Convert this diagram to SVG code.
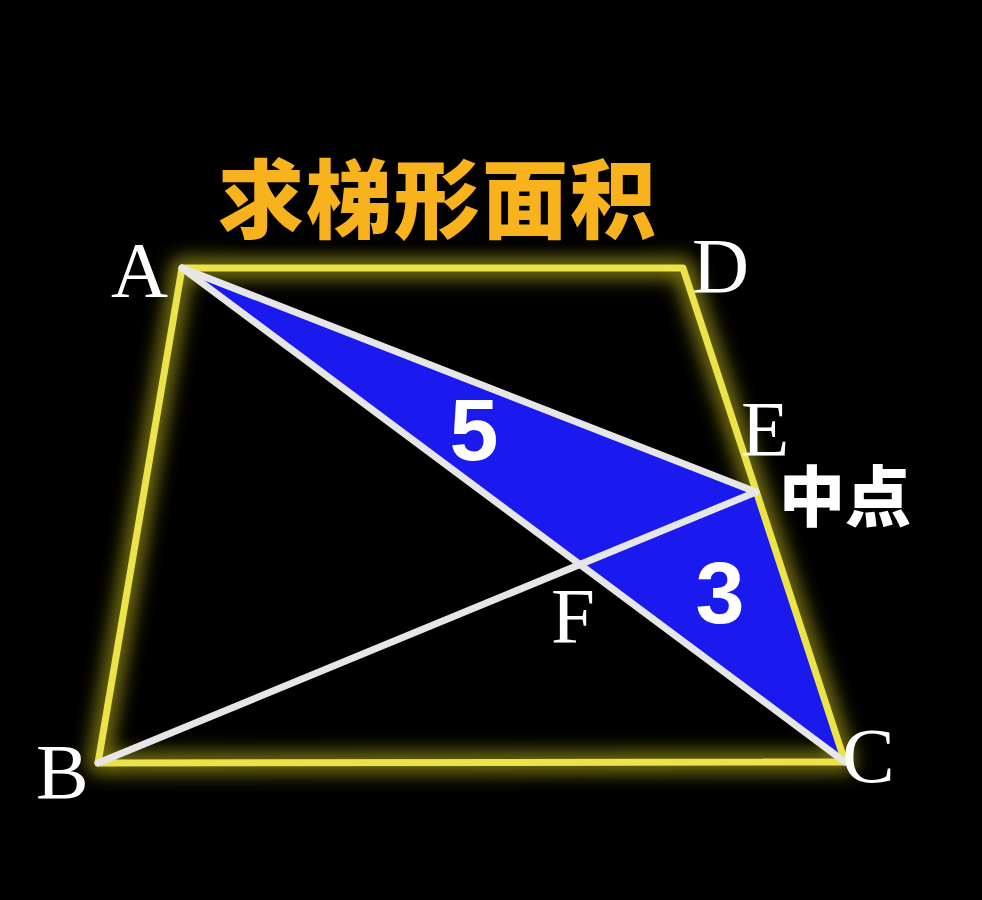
<svg xmlns="http://www.w3.org/2000/svg" width="982" height="900" viewBox="0 0 982 900">
  <defs>
    <filter id="glow" x="-20%" y="-20%" width="140%" height="140%">
      <feGaussianBlur stdDeviation="9"/>
    </filter>
    <filter id="soft" x="-20%" y="-20%" width="140%" height="140%">
      <feGaussianBlur stdDeviation="6"/>
    </filter>
    <style>
      .edge { fill: none; stroke: #ece24a; stroke-width: 7; stroke-linejoin: round; stroke-linecap: round; }
      .halo { fill: none; stroke: #d8d020; stroke-width: 22; stroke-opacity: 0.55; stroke-linejoin: round; }
      .seg { stroke: #e6e6e6; stroke-width: 7; stroke-linecap: round; }
      .pt { font-family: "Liberation Serif", "Times New Roman", serif; font-size: 79px; fill: #ffffff; }
      .num { font-family: "Liberation Sans", Arial, sans-serif; font-weight: bold; font-size: 88px; fill: #ffffff; text-anchor: middle; }
      .cjk { font-family: "Noto Sans CJK SC", "Noto Sans", sans-serif; font-weight: 900; }
    </style>
  </defs>
  <rect width="982" height="900" fill="#000000"/>

  <g id="glow-layer">
    <path class="halo" d="M182,268 L683,268 L845,762 L98,763 Z" filter="url(#glow)"/>
    <rect x="215" y="160" width="450" height="85" rx="30" fill="#000000" filter="url(#soft)"/>
  </g>

  <g id="shaded">
    <polygon points="182,268 756,492 845,762" fill="#1a1aee"/>
  </g>

  <g id="trapezoid">
    <path class="edge" d="M182,268 L683,268 L845,762 L98,763 Z"/>
  </g>

  <g id="connectors">
    <line class="seg" x1="182" y1="268" x2="845" y2="762"/>
    <line class="seg" x1="182" y1="268" x2="756" y2="492"/>
    <line class="seg" x1="98" y1="763" x2="756" y2="492"/>
  </g>

  <g id="title">
    <text class="cjk" x="438" y="232" font-size="86" fill="#f8b21e" text-anchor="middle" letter-spacing="2">求梯形面积</text>
  </g>

  <g id="labels">
    <text class="pt" x="111" y="296">A</text>
    <text class="pt" x="692" y="292">D</text>
    <text class="pt" x="741" y="455">E</text>
    <text class="pt" x="551" y="642">F</text>
    <text class="pt" x="36" y="798">B</text>
    <text class="pt" x="842" y="782">C</text>
    <text class="cjk" x="845" y="521" font-size="66" fill="#ffffff" text-anchor="middle">中点</text>
  </g>

  <g id="areas">
    <text class="num" x="474" y="460">5</text>
    <text class="num" x="720" y="623">3</text>
  </g>
</svg>
